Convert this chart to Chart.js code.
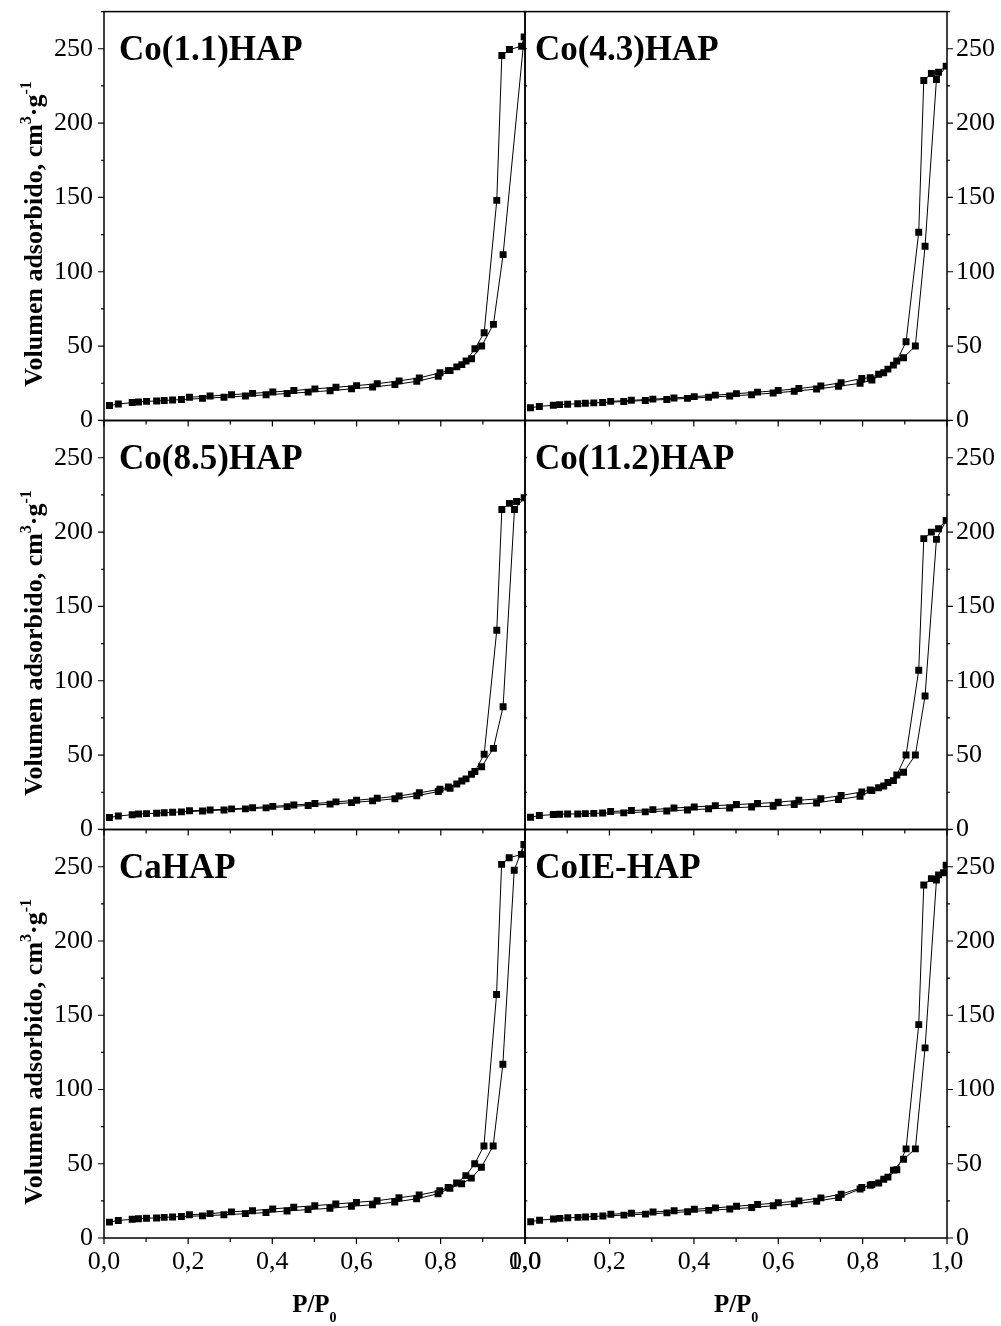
<!DOCTYPE html>
<html>
<head>
<meta charset="utf-8">
<script src="https://cdn.jsdelivr.net/npm/chart.js@4.4.0/dist/chart.umd.min.js"></script>
<style>
  html, body { margin: 0; padding: 0; background: #fff; }
  #wrap { position: relative; width: 1001px; height: 1326px; overflow: hidden; }
  #wrap canvas { position: absolute; }
</style>
</head>
<body>
<div id="wrap"></div>
<script>
// relative pressure P/P0 of the measured points
const pAds = [0.013, 0.034, 0.067, 0.082, 0.101, 0.125, 0.143, 0.163, 0.184, 0.234, 0.285, 0.336, 0.385, 0.435, 0.485,
  0.537, 0.588, 0.638, 0.691, 0.743, 0.794, 0.822, 0.850, 0.873, 0.897, 0.925, 0.948, 0.975, 0.998];
const pDes = [0.992, 0.980, 0.963, 0.945, 0.933, 0.903, 0.881, 0.860, 0.838, 0.818, 0.798, 0.749, 0.701, 0.649, 0.600,
  0.551, 0.501, 0.451, 0.401, 0.353, 0.303, 0.252, 0.203];

// volumen adsorbido (cm3/g), adsorcion y desorcion
const adsCo11 = [10.0, 11.0, 12.0, 12.4, 12.8, 13.1, 13.4, 13.7, 14.0, 14.8, 15.6, 16.4, 17.2, 18.1, 19.0,
  20.0, 21.2, 22.4, 24.1, 26.3, 29.6, 33.5, 37.5, 41.5, 50.0, 64.6, 111.5, null, 258.0];
const desCo11 = [251.7, null, 249.5, 245.5, 148.0, 59.0, 48.2, 40.0, 36.0, 33.5, 32.0, 28.6, 26.6, 24.7, 23.4,
  22.3, 21.2, 20.1, 19.1, 18.2, 17.3, 16.4, 15.6];

const adsCo43 = [8.5, 9.4, 10.2, 10.6, 10.9, 11.2, 11.5, 11.8, 12.0, 12.7, 13.4, 14.1, 14.8, 15.6, 16.4,
  17.3, 18.4, 19.6, 21.1, 23.0, 24.9, 27.1, 32.1, 37.2, 42.2, 50.0, 117.2, 229.3, 238.3];
const desCo43 = [null, 234.2, 233.4, 228.6, 126.6, 52.9, 40.0, 34.5, 31.0, 28.7, 28.2, 25.3, 23.2, 21.4, 20.1,
  19.0, 18.0, 17.0, 16.0, 15.1, 14.3, 13.5, 12.8];

const adsCo85 = [8.0, 9.0, 9.9, 10.3, 10.6, 10.9, 11.2, 11.5, 11.8, 12.4, 13.1, 13.8, 14.5, 15.3, 16.1,
  17.0, 18.0, 19.2, 20.6, 22.6, 25.5, 27.7, 32.6, 37.1, 42.2, 54.5, 82.5, 215.2, 223.1];
const desCo85 = [null, 220.6, 219.3, 215.2, 134.0, 50.5, 39.0, 34.0, 30.5, 28.5, 27.0, 24.6, 22.5, 20.9, 19.6,
  18.5, 17.4, 16.4, 15.5, 14.6, 13.8, 13.1, 12.5];

const adsCo112 = [8.2, 9.3, 10.0, 10.2, 10.4, 10.4, 10.6, 10.8, 11.0, 11.1, 11.8, 12.4, 13.1, 13.8, 14.4,
  15.1, 15.6, 16.7, 17.8, 20.1, 22.3, 26.1, 29.2, 32.8, 38.4, 50.0, 89.7, 195.1, 207.9];
const desCo112 = [null, 202.3, 200.0, 195.6, 107.1, 50.0, 36.6, 31.5, 28.0, 26.5, 25.2, 22.8, 20.7, 19.6, 18.3,
  17.4, 16.7, 16.0, 15.1, 14.4, 13.3, 12.7, 12.0];

const adsCaHAP = [10.7, 11.8, 12.6, 13.0, 13.3, 13.5, 13.9, 14.2, 14.5, 14.9, 15.6, 16.4, 17.1, 18.2, 19.1,
  20.0, 21.3, 22.4, 24.2, 26.4, 29.8, 33.5, 36.5, 40.3, 47.7, 62.0, 117.0, 247.6, 265.0];
const desCaHAP = [258.3, null, 256.0, 251.6, 164.0, 62.0, 50.0, 42.0, 37.0, 34.0, 31.8, 28.9, 27.1, 25.1, 24.0,
  22.9, 21.8, 20.7, 19.6, 18.4, 17.6, 16.4, 15.6];

const adsCoIE = [11.0, 12.0, 12.8, 13.2, 13.6, 13.9, 14.2, 14.5, 14.8, 15.4, 16.1, 16.9, 17.7, 18.6, 19.5,
  20.5, 21.7, 23.0, 24.8, 27.2, 33.0, 36.0, 39.5, 45.7, 53.0, 60.0, 128.0, 241.0, 251.0];
const desCoIE = [246.0, 244.5, 242.0, 237.7, 143.7, 60.0, 46.0, 41.0, 37.0, 35.5, 34.0, 29.5, 27.0, 25.0, 23.7,
  22.5, 21.4, 20.3, 19.3, 18.4, 17.5, 16.7, 16.0];

const panelNames = ['Co(1.1)HAP', 'Co(4.3)HAP', 'Co(8.5)HAP', 'Co(11.2)HAP', 'CaHAP', 'CoIE-HAP'];
const panelAds = [adsCo11, adsCo43, adsCo85, adsCo112, adsCaHAP, adsCoIE];
const panelDes = [desCo11, desCo43, desCo85, desCo112, desCaHAP, desCoIE];

const xTickLabels = ['0,0', '0,2', '0,4', '0,6', '0,8', '1,0'];
const yMax = 275;

// page geometry of the plot areas
const colBox = [[104, 525], [525, 947]];
const rowBox = [[12, 421], [421, 830], [830, 1238]];
const SERIF = '"Liberation Serif", "Times New Roman", serif';

function drawParts(ctx, parts, x, y) {
  // parts: [text, font, dy]
  let cx = x;
  parts.forEach(([t, f, dy]) => {
    ctx.font = f;
    ctx.fillText(t, cx, y + dy);
    cx += ctx.measureText(t).width;
  });
}
function partsWidth(ctx, parts) {
  let w = 0;
  parts.forEach(([t, f]) => { ctx.font = f; w += ctx.measureText(t).width; });
  return w;
}

const framePlugin = {
  id: 'frame',
  afterDatasetsDraw(chart, args, opts) {
    const { ctx, chartArea: a } = chart;
    const x = chart.scales.x, y = chart.scales.y;
    ctx.save();
    ctx.strokeStyle = '#000';
    ctx.fillStyle = '#000';
    ctx.lineWidth = 1.5;
    ctx.strokeRect(a.left, a.top, a.right - a.left, a.bottom - a.top);

    ctx.lineWidth = 1.2;
    ctx.beginPath();
    for (let i = 0; i <= 10; i++) {
      const px = x.getPixelForValue(i / 10);
      const len = i % 2 ? 4 : 6;
      ctx.moveTo(px, a.bottom);
      ctx.lineTo(px, a.bottom + len);
    }
    for (let v = 0; v <= yMax; v += 25) {
      const py = y.getPixelForValue(v);
      const len = v % 50 ? 3 : 6;
      if (opts.col === 0) {
        ctx.moveTo(a.left, py); ctx.lineTo(a.left - len, py);
      } else {
        ctx.moveTo(a.right, py); ctx.lineTo(a.right + len, py);
        ctx.moveTo(a.left, py); ctx.lineTo(a.left + 2, py);
      }
    }
    ctx.stroke();

    // sample name
    ctx.textBaseline = 'alphabetic';
    ctx.textAlign = 'left';
    ctx.font = 'bold 35px ' + SERIF;
    ctx.fillText(opts.name, a.left + (opts.col === 0 ? 15 : 10), a.top + 48);

    // y title on the left column
    if (opts.col === 0) {
      const parts = [
        ['Volumen adsorbido, cm', 'bold 26px ' + SERIF, 0],
        ['3', 'bold 16px ' + SERIF, -11],
        ['\u00B7g', 'bold 26px ' + SERIF, 0],
        ['-1', 'bold 16px ' + SERIF, -11]
      ];
      const w = partsWidth(ctx, parts);
      ctx.save();
      ctx.translate(a.left - 62, (a.top + a.bottom) / 2 + 18);
      ctx.rotate(-Math.PI / 2);
      drawParts(ctx, parts, -w / 2, 0);
      ctx.restore();
    }

    // x title under the bottom row
    if (opts.bottom) {
      const parts = [
        ['P/P', 'bold 25px ' + SERIF, 0],
        ['0', 'bold 14px ' + SERIF, 10]
      ];
      const w = partsWidth(ctx, parts);
      drawParts(ctx, parts, (a.left + a.right) / 2 - w / 2, a.bottom + 74);
    }
    ctx.restore();
  }
};

const wrap = document.getElementById('wrap');

panelNames.forEach((name, i) => {
  const col = i % 2, row = Math.floor(i / 2);
  const bottom = row === 2;
  const [left, right] = colBox[col];
  const [top, bot] = rowBox[row];
  const pad = 20;

  const cw = col === 0 ? right + pad : 1001 - left + pad;
  const ch = bottom ? 1326 - top + pad : (bot - top) + 2 * pad;
  const yAxisW = col === 0 ? left : 1001 - right;
  const xAxisH = bottom ? 88 : 0;

  const canvas = document.createElement('canvas');
  canvas.width = cw;
  canvas.height = ch;
  canvas.style.width = cw + 'px';
  canvas.style.height = ch + 'px';
  wrap.appendChild(canvas);

  const pts = pAds.map((p, j) => ({ x: p, y: panelAds[i][j] }))
    .concat(pDes.map((p, j) => ({ x: p, y: panelDes[i][j] })))
    .filter(d => d.y !== null);

  const chart = new Chart(canvas, {
    type: 'scatter',
    data: {
      datasets: [{
        data: pts,
        showLine: true,
        borderColor: '#000',
        borderWidth: 1,
        pointStyle: 'rect',
        pointRadius: 4.9,
        pointBackgroundColor: '#000',
        pointBorderWidth: 0
      }]
    },
    options: {
      responsive: false,
      maintainAspectRatio: false,
      animation: false,
      devicePixelRatio: 1,
      events: [],
      layout: {
        padding: {
          top: pad,
          bottom: bottom ? 0 : pad,
          left: col === 0 ? 0 : pad,
          right: col === 0 ? pad : 0
        }
      },
      plugins: {
        legend: { display: false },
        tooltip: { enabled: false },
        frame: { col: col, name: name, bottom: bottom }
      },
      scales: {
        x: {
          type: 'linear',
          min: 0,
          max: 1,
          display: bottom,
          grid: { display: false, drawTicks: false },
          border: { display: false },
          ticks: {
            stepSize: 0.2,
            autoSkip: false,
            maxRotation: 0,
            padding: 9,
            color: '#000',
            font: { family: SERIF, size: 26 },
            callback: v => xTickLabels[Math.round(v / 0.2)]
          },
          afterFit: s => { s.height = xAxisH; }
        },
        y: {
          type: 'linear',
          position: col === 0 ? 'left' : 'right',
          min: 0,
          max: yMax,
          grid: { display: false, drawTicks: false },
          border: { display: false },
          ticks: {
            stepSize: 50,
            includeBounds: false,
            padding: col === 0 ? 11 : 9,
            color: '#000',
            font: { family: SERIF, size: 26 }
          },
          afterFit: s => { s.width = yAxisW; }
        }
      }
    },
    plugins: [framePlugin]
  });

  // move and size the canvas so the plot area lands on its page box
  const ca = chart.chartArea;
  const dl = ca.left, dt = ca.top, dr = cw - ca.right, db = ch - ca.bottom;
  chart.resize(Math.round(dl + (right - left) + dr), Math.round(dt + (bot - top) + db));
  canvas.style.left = (left - dl) + 'px';
  canvas.style.top = (top - dt) + 'px';
});
</script>
</body>
</html>
